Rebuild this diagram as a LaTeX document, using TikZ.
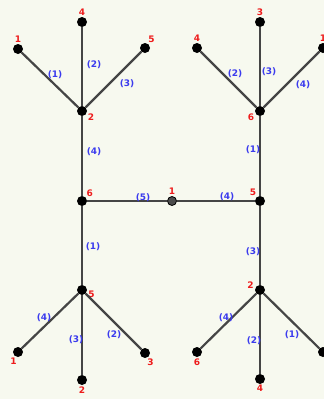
\documentclass[tikz,border=0pt]{standalone}
\usepackage{fontspec}
\setmainfont{DejaVu Sans}
\usetikzlibrary{positioning}
\definecolor{edgegray}{HTML}{454545}
\definecolor{lblblue}{HTML}{3B3BEE}
\definecolor{lblred}{HTML}{EE1C1C}
\definecolor{bgcream}{HTML}{F7F9EF}

\begin{document}
\begin{tikzpicture}[
  x=1pt, y=-1pt,
  vert/.style={circle, fill=black, inner sep=0pt, minimum size=10pt},
  midvert/.style={circle, draw=black, fill=gray!60!black, inner sep=0pt,
    minimum size=9pt, line width=0.8pt},
  edge/.style={draw=edgegray, line width=2.2pt},
  elab/.style={font=\bfseries\fontsize{9}{10}\selectfont, text=lblblue, inner sep=0pt},
  vlab/.style={font=\bfseries\fontsize{9}{10}\selectfont, text=lblred, inner sep=0pt},
  every label/.style={vlab},
  label distance=1pt,
]
\fill[bgcream] (0,0) rectangle (324,399);
\useasboundingbox (0,0) rectangle (324,399);

% Left upper tree
\node[vert, label=above:1]  (lt1) at (18,49) {};
\node[vert, label=above:4]  (lt4) at (82,22) {};
\node[vert, label=60:5]     (lt5) at (145,48) {};
\node[vert, label=-25:2]    (lt2) at (82,111) {};

% Right upper tree
\node[vert, label=above:4]  (rt4) at (197,48) {};
\node[vert, label=above:3]  (rt3) at (260,22) {};
\node[vert, label=above:1]  (rt1) at (323,48) {};
\node[vert, label=205:6]    (rt6) at (260,111) {};

% Middle row
\node[vert, label=45:6]     (lm6) at (82,201) {};
\node[midvert, label=above:1] (mm1) at (172,201) {};
\node[vert, label=125:5]    (rm5) at (260,201) {};

% Left lower tree
\node[vert, label=-10:5]    (lb5) at (82,290) {};
\node[vert, label=-100:1]   (lb1) at (18,352) {};
\node[vert, label=below:2]  (lb2) at (82,380) {};
\node[vert, label=-70:3]    (lb3) at (145,353) {};

% Right lower tree
\node[vert, label=170:2]    (rb2) at (260,290) {};
\node[vert, label=below:6]  (rb6) at (197,352) {};
\node[vert, label=below:4]  (rb4) at (260,379) {};
\node[vert]                 (rb1) at (323,352) {};

% Edges
\draw[edge] (lt2) -- (lt1);
\draw[edge] (lt2) -- (lt4);
\draw[edge] (lt2) -- (lt5);
\draw[edge] (lt2) -- (lm6);
\draw[edge] (rt6) -- (rt4);
\draw[edge] (rt6) -- (rt3);
\draw[edge] (rt6) -- (rt1);
\draw[edge] (rt6) -- (rm5);
\draw[edge] (lm6) -- (mm1);
\draw[edge] (mm1) -- (rm5);
\draw[edge] (lm6) -- (lb5);
\draw[edge] (lb5) -- (lb1);
\draw[edge] (lb5) -- (lb2);
\draw[edge] (lb5) -- (lb3);
\draw[edge] (rm5) -- (rb2);
\draw[edge] (rb2) -- (rb6);
\draw[edge] (rb2) -- (rb4);
\draw[edge] (rb2) -- (rb1);

% Edge labels
\node[elab] (e1) at (55,75)  {(1)};
\node[elab] (e2) at (94,65)  {(2)};
\node[elab] (e3) at (127,84) {(3)};
\node[elab] (e4) at (94,152) {(4)};
\node[elab] (e5) at (235,74) {(2)};
\node[elab] (e6) at (269,72) {(3)};
\node[elab] (e7) at (303,85) {(4)};
\node[elab] (e8) at (253,150) {(1)};
\node[elab] (e9) at (143,198) {(5)};
\node[elab] (e10) at (227,197) {(4)};
\node[elab] (e11) at (93,247) {(1)};
\node[elab] (e12) at (44,318) {(4)};
\node[elab] (e13) at (76,340) {(3)};
\node[elab] (e14) at (114,335) {(2)};
\node[elab] (e15) at (253,252) {(3)};
\node[elab] (e16) at (226,318) {(4)};
\node[elab] (e17) at (254,341) {(2)};
\node[elab] (e18) at (292,335) {(1)};

\end{tikzpicture}
\end{document}
